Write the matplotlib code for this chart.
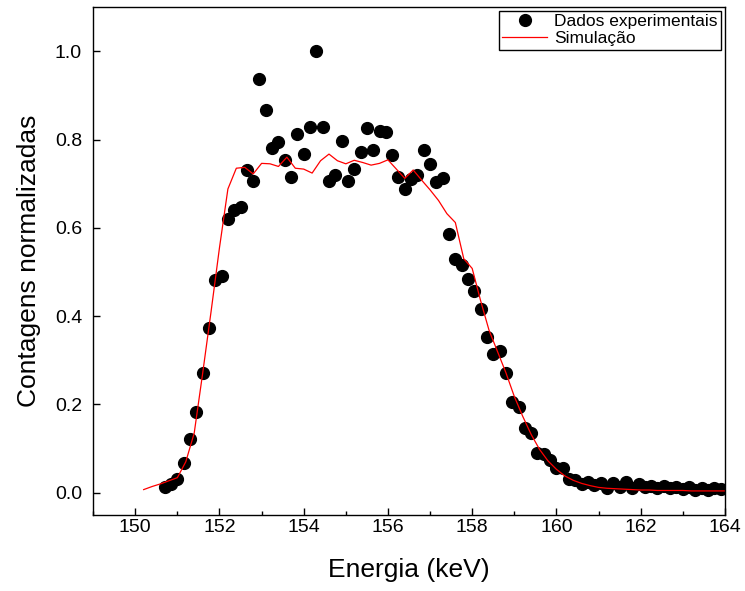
import matplotlib
matplotlib.use('Agg')
from matplotlib import pyplot as plt
from matplotlib.ticker import MultipleLocator

plt.rcParams['font.family'] = ['Liberation Sans', 'DejaVu Sans']

# experimental points (keV, normalized counts)
energia_exp = [150.70, 150.85, 151.00, 151.15, 151.30, 151.45, 151.60, 151.75, 151.90, 152.05,
               152.20, 152.35, 152.50, 152.65, 152.80, 152.95, 153.10, 153.25, 153.40, 153.55,
               153.70, 153.85, 154.00, 154.15, 154.30, 154.45, 154.60, 154.75, 154.90, 155.05,
               155.20, 155.35, 155.50, 155.65, 155.80, 155.95, 156.10, 156.25, 156.40, 156.55,
               156.70, 156.85, 157.00, 157.15, 157.30, 157.45, 157.60, 157.75, 157.90, 158.05,
               158.20, 158.35, 158.50, 158.65, 158.80, 158.95, 159.10, 159.25, 159.40, 159.55,
               159.70, 159.85, 160.00, 160.15, 160.30, 160.45, 160.60, 160.75, 160.90, 161.05,
               161.20, 161.35, 161.50, 161.65, 161.80, 161.95, 162.10, 162.25, 162.40, 162.55,
               162.70, 162.85, 163.00, 163.15, 163.30, 163.45, 163.60, 163.75, 163.90]
contagens_exp = [0.014, 0.020, 0.032, 0.068, 0.122, 0.183, 0.271, 0.372, 0.481, 0.490,
                 0.621, 0.641, 0.647, 0.731, 0.707, 0.938, 0.866, 0.780, 0.795, 0.754,
                 0.716, 0.812, 0.767, 0.828, 1.000, 0.828, 0.705, 0.720, 0.796, 0.707,
                 0.733, 0.772, 0.826, 0.776, 0.820, 0.816, 0.765, 0.714, 0.688, 0.711,
                 0.720, 0.777, 0.745, 0.703, 0.713, 0.585, 0.530, 0.516, 0.485, 0.457,
                 0.417, 0.353, 0.314, 0.320, 0.272, 0.206, 0.193, 0.146, 0.135, 0.090,
                 0.088, 0.074, 0.056, 0.055, 0.031, 0.028, 0.020, 0.025, 0.018, 0.022,
                 0.010, 0.022, 0.012, 0.024, 0.010, 0.020, 0.012, 0.016, 0.010, 0.015,
                 0.010, 0.014, 0.008, 0.013, 0.006, 0.011, 0.005, 0.010, 0.008]

# simulation curve
energia_sim = [150.2, 150.4, 150.6, 150.8, 151.0, 151.2, 151.4, 151.6, 151.8, 152.0,
               152.2, 152.4, 152.6, 152.8, 153.0, 153.2, 153.4, 153.6, 153.8, 154.0,
               154.2, 154.4, 154.6, 154.8, 155.0, 155.2, 155.4, 155.6, 155.8, 156.0,
               156.2, 156.4, 156.6, 156.8, 157.0, 157.2, 157.4, 157.6, 157.8, 158.0,
               158.2, 158.4, 158.6, 158.8, 159.0, 159.2, 159.4, 159.6, 159.8, 160.0,
               160.2, 160.4, 160.6, 160.8, 161.0, 161.2, 161.4, 161.6, 161.8, 162.0,
               162.2, 162.4, 162.6, 162.8, 163.0, 163.2, 163.4, 163.6, 163.8, 164.0]
contagens_sim = [0.007, 0.014, 0.020, 0.027, 0.034, 0.070, 0.135, 0.270, 0.410, 0.555,
                 0.688, 0.735, 0.737, 0.722, 0.746, 0.745, 0.739, 0.760, 0.735, 0.733,
                 0.724, 0.752, 0.767, 0.752, 0.745, 0.753, 0.748, 0.742, 0.746, 0.754,
                 0.733, 0.712, 0.731, 0.708, 0.686, 0.662, 0.632, 0.612, 0.530, 0.508,
                 0.435, 0.368, 0.320, 0.272, 0.218, 0.173, 0.132, 0.098, 0.072, 0.053,
                 0.038, 0.028, 0.021, 0.016, 0.012, 0.010, 0.009, 0.008, 0.007, 0.006,
                 0.006, 0.005, 0.005, 0.005, 0.005, 0.004, 0.004, 0.004, 0.004, 0.004]

fig = plt.figure(figsize=(7.45, 5.91), dpi=100)
ax = fig.add_axes([0.125, 0.129, 0.848, 0.859])

ax.plot(energia_exp, contagens_exp, 'o', color='black', markersize=8.5,
        label='Dados experimentais')
ax.plot(energia_sim, contagens_sim, '-', color='red', linewidth=0.9,
        label='Simulação')

ax.set_xlim(149, 164)
ax.set_ylim(-0.05, 1.1)
ax.xaxis.set_major_locator(MultipleLocator(2))
ax.xaxis.set_minor_locator(MultipleLocator(1))
ax.yaxis.set_major_locator(MultipleLocator(0.2))
ax.yaxis.set_major_formatter(plt.FormatStrFormatter('%.1f'))
ax.tick_params(which='both', direction='in', top=False, right=False, labelsize=14)
ax.tick_params(which='major', length=5, width=1)
ax.tick_params(which='minor', length=3, width=1)
ax.tick_params(axis='x', pad=3)
ax.tick_params(axis='y', pad=8)
for s in ax.spines.values():
    s.set_linewidth(1)
    s.set_color('black')

ax.set_xlabel('Energia (keV)', fontsize=19, labelpad=16)
ax.set_ylabel('Contagens normalizadas', fontsize=19, labelpad=10)

leg = ax.legend(loc='upper right', fontsize=12.5, fancybox=False, edgecolor='black',
                framealpha=1, borderpad=0.2, labelspacing=0.1, handlelength=2.6,
                handletextpad=0.4, borderaxespad=0.2)
leg.get_frame().set_linewidth(1)

plt.savefig('out.png', dpi=100)
